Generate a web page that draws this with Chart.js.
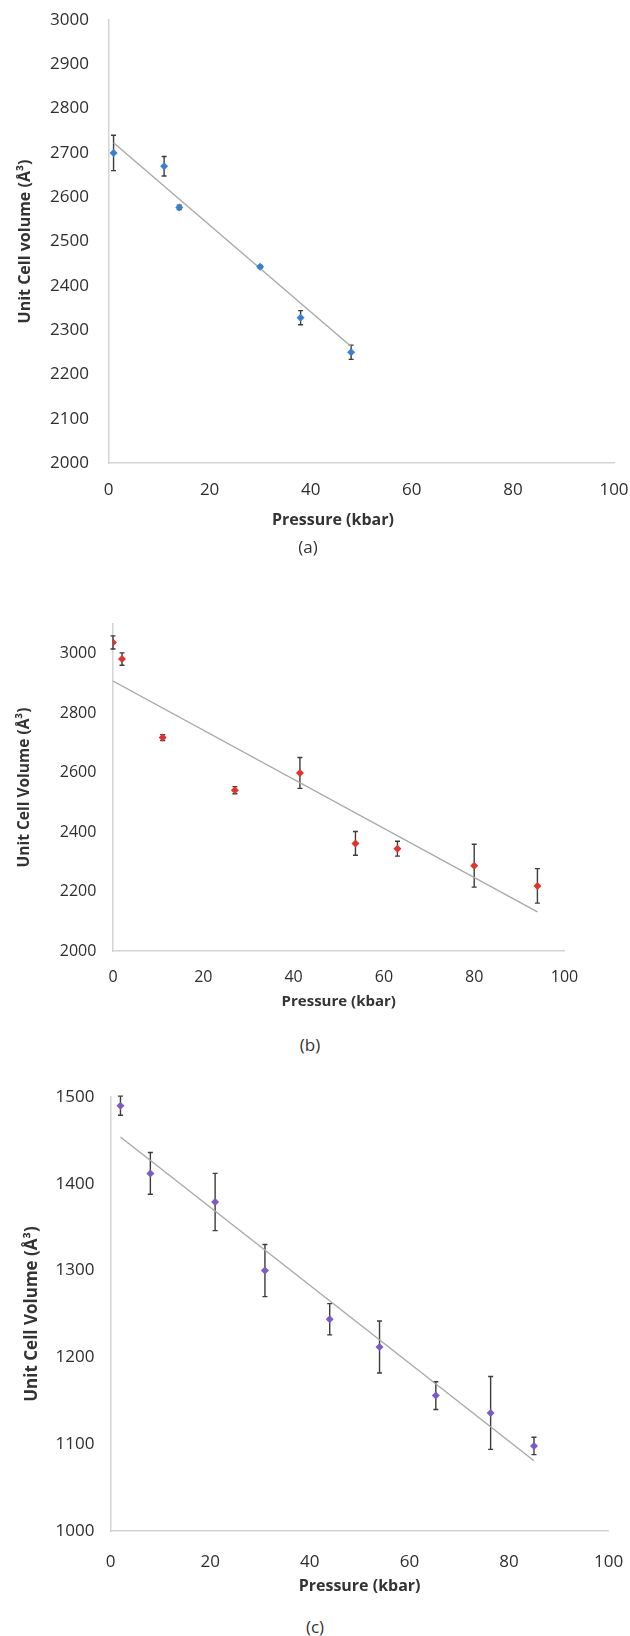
<!DOCTYPE html>
<html>
<head>
<meta charset="utf-8">
<script src="https://cdn.jsdelivr.net/npm/chart.js@4.4.1/dist/chart.umd.min.js"></script>
<style>
  body {
    margin: 0;
    width: 630px;
    height: 1636px;
    position: relative;
    overflow: hidden;
    background: #fff;
    font-family: "Open Sans", sans-serif;
  }
  .box { position: absolute; left: 0; width: 630px; }
  .txt {
    position: absolute;
    transform: translate(-50%, -50%);
    white-space: nowrap;
    color: #333;
  }
</style>
</head>
<body>
<div class="box" style="top:0;height:540px"><canvas id="chartA"></canvas></div>
<div class="box" style="top:560px;height:460px"><canvas id="chartB"></canvas></div>
<div class="box" style="top:1070px;height:535px"><canvas id="chartC"></canvas></div>

<div class="txt" style="left:333px;top:519px;font-size:16px;font-weight:700">Pressure (kbar)</div>
<div class="txt" style="left:308px;top:546px;font-size:17px">(a)</div>
<div class="txt" style="left:310px;top:1044px;font-size:17px">(b)</div>
<div class="txt" style="left:315px;top:1626px;font-size:17px">(c)</div>

<script>
// (a)
const pressureA = [1, 11, 14, 30, 38, 48];
const volumeA = [2700, 2670, 2577, 2443, 2328, 2250];
const errorA = [40, 22, 5, 3, 16, 16];
const trendXA = [1, 48];
const trendYA = [2723, 2263];

// (b)
const pressureB = [0, 2, 11, 27, 41.4, 53.7, 63, 80, 94];
const volumeB = [3038, 2982, 2718, 2541, 2599, 2362, 2344, 2287, 2219];
const errorB = [22, 21, 10, 12, 52, 40, 25, 72, 58];
const trendXB = [0, 94];
const trendYB = [2908, 2132];

// (c)
const pressureC = [2, 8, 21, 31, 44, 54, 65.3, 76.3, 85];
const volumeC = [1490, 1412, 1379, 1300, 1244, 1212, 1156, 1136, 1098];
const errorC = [11, 24, 33, 30, 18, 30, 16, 42, 10];
const trendXC = [2, 85];
const trendYC = [1454, 1081];

const xTicks = [0, 20, 40, 60, 80, 100];

// error bars, drawn under the markers
const errorBars = {
  id: "errorBars",
  beforeDatasetsDraw(chart) {
    const { ctx } = chart;
    const x = chart.scales.x;
    const y = chart.scales.y;
    chart.data.datasets.forEach((ds) => {
      if (!ds.errors) return;
      ctx.save();
      ctx.strokeStyle = "#3c3c3c";
      ctx.lineWidth = 1.4;
      ds.data.forEach((p, i) => {
        const px = x.getPixelForValue(p.x);
        const top = y.getPixelForValue(p.y + ds.errors[i]);
        const bot = y.getPixelForValue(p.y - ds.errors[i]);
        ctx.beginPath();
        ctx.moveTo(px, top);
        ctx.lineTo(px, bot);
        ctx.moveTo(px - 2.5, top);
        ctx.lineTo(px + 2.5, top);
        ctx.moveTo(px - 2.5, bot);
        ctx.lineTo(px + 2.5, bot);
        ctx.stroke();
      });
      ctx.restore();
    });
  },
};

function toPoints(xs, ys) {
  return xs.map((v, i) => ({ x: v, y: ys[i] }));
}

function buildChart(id, o) {
  return new Chart(document.getElementById(id), {
    type: "scatter",
    data: {
      datasets: [
        {
          data: toPoints(o.px, o.py),
          errors: o.err,
          pointStyle: "rectRot",
          pointRadius: 4,
          backgroundColor: o.color,
          borderColor: o.color,
          borderWidth: 0,
          order: 1,
        },
        {
          data: toPoints(o.tx, o.ty),
          showLine: true,
          borderColor: "#a9a9a9",
          borderWidth: 1.4,
          pointRadius: 0,
          order: 2,
        },
      ],
    },
    options: {
      responsive: true,
      maintainAspectRatio: false,
      animation: false,
      events: [],
      layout: { padding: o.pad },
      plugins: { legend: { display: false }, tooltip: { enabled: false } },
      scales: {
        x: {
          type: "linear",
          min: 0,
          max: 100,
          afterBuildTicks: (s) => {
            s.ticks = xTicks.map((v) => ({ value: v }));
          },
          afterFit: (s) => {
            s.height = o.xH;
          },
          // tick marks are hidden, their length only pushes the labels away
          grid: { display: false, drawTicks: true, tickLength: o.xTickGap },
          border: { display: true, color: "#d4d4d4", width: 1.5 },
          ticks: {
            maxRotation: 0,
            padding: 0,
            color: "#2e2e2e",
            font: { family: "Open Sans", size: o.tickSize },
            callback: (v) => String(v),
          },
          title: {
            display: !!o.xTitle,
            text: o.xTitle,
            color: "#333",
            padding: { top: 0, bottom: o.xTitlePad },
            font: { family: "Open Sans", size: o.xTitleSize, weight: "bold" },
          },
        },
        y: {
          type: "linear",
          min: o.yMin,
          max: o.yMax,
          afterFit: (s) => {
            s.width = o.yW;
          },
          grid: { display: false, drawTicks: true, tickLength: o.yTickGap },
          border: { display: true, color: "#d4d4d4", width: 1.5 },
          ticks: {
            stepSize: o.yStep,
            includeBounds: false,
            autoSkip: false,
            padding: 0,
            color: "#2e2e2e",
            font: { family: "Open Sans", size: o.tickSize },
            callback: (v) => String(v),
          },
          title: {
            display: true,
            text: o.yTitle,
            color: "#333",
            padding: { top: o.yTitlePad, bottom: 0 },
            font: { family: "Open Sans", size: o.yTitleSize, weight: "bold" },
          },
        },
      },
    },
    plugins: [errorBars],
  });
}

buildChart("chartA", {
  px: pressureA, py: volumeA, err: errorA, tx: trendXA, ty: trendYA,
  color: "#3b80cf",
  yMin: 2000, yMax: 3000, yStep: 100,
  yTitle: "Unit Cell volume (Å³)", xTitle: "",
  pad: { top: 20, right: 16, bottom: 0, left: 0 },
  yW: 108.5, xH: 77,
  tickSize: 17, yTickGap: 19.5, xTickGap: 17,
  yTitleSize: 16, yTitlePad: 15.4,
  xTitleSize: 16, xTitlePad: 0,
});

buildChart("chartB", {
  px: pressureB, py: volumeB, err: errorB, tx: trendXB, ty: trendYB,
  color: "#e0342f",
  yMin: 2000, yMax: 3100, yStep: 200,
  yTitle: "Unit Cell Volume (Å³)", xTitle: "Pressure (kbar)",
  pad: { top: 64, right: 65.5, bottom: 0, left: 0 },
  yW: 113, xH: 69,
  tickSize: 16, yTickGap: 16.6, xTickGap: 17,
  yTitleSize: 15.5, yTitlePad: 15.7,
  xTitleSize: 15, xTitlePad: 9,
});

buildChart("chartC", {
  px: pressureC, py: volumeC, err: errorC, tx: trendXC, ty: trendYC,
  color: "#7b5cc2",
  yMin: 1000, yMax: 1500, yStep: 100,
  yTitle: "Unit Cell Volume (Å³)", xTitle: "Pressure (kbar)",
  pad: { top: 27, right: 21.3, bottom: 0, left: 0 },
  yW: 110.5, xH: 74,
  tickSize: 17, yTickGap: 16, xTickGap: 21,
  yTitleSize: 17, yTitlePad: 21.8,
  xTitleSize: 16, xTitlePad: 9,
});
</script>
</body>
</html>
